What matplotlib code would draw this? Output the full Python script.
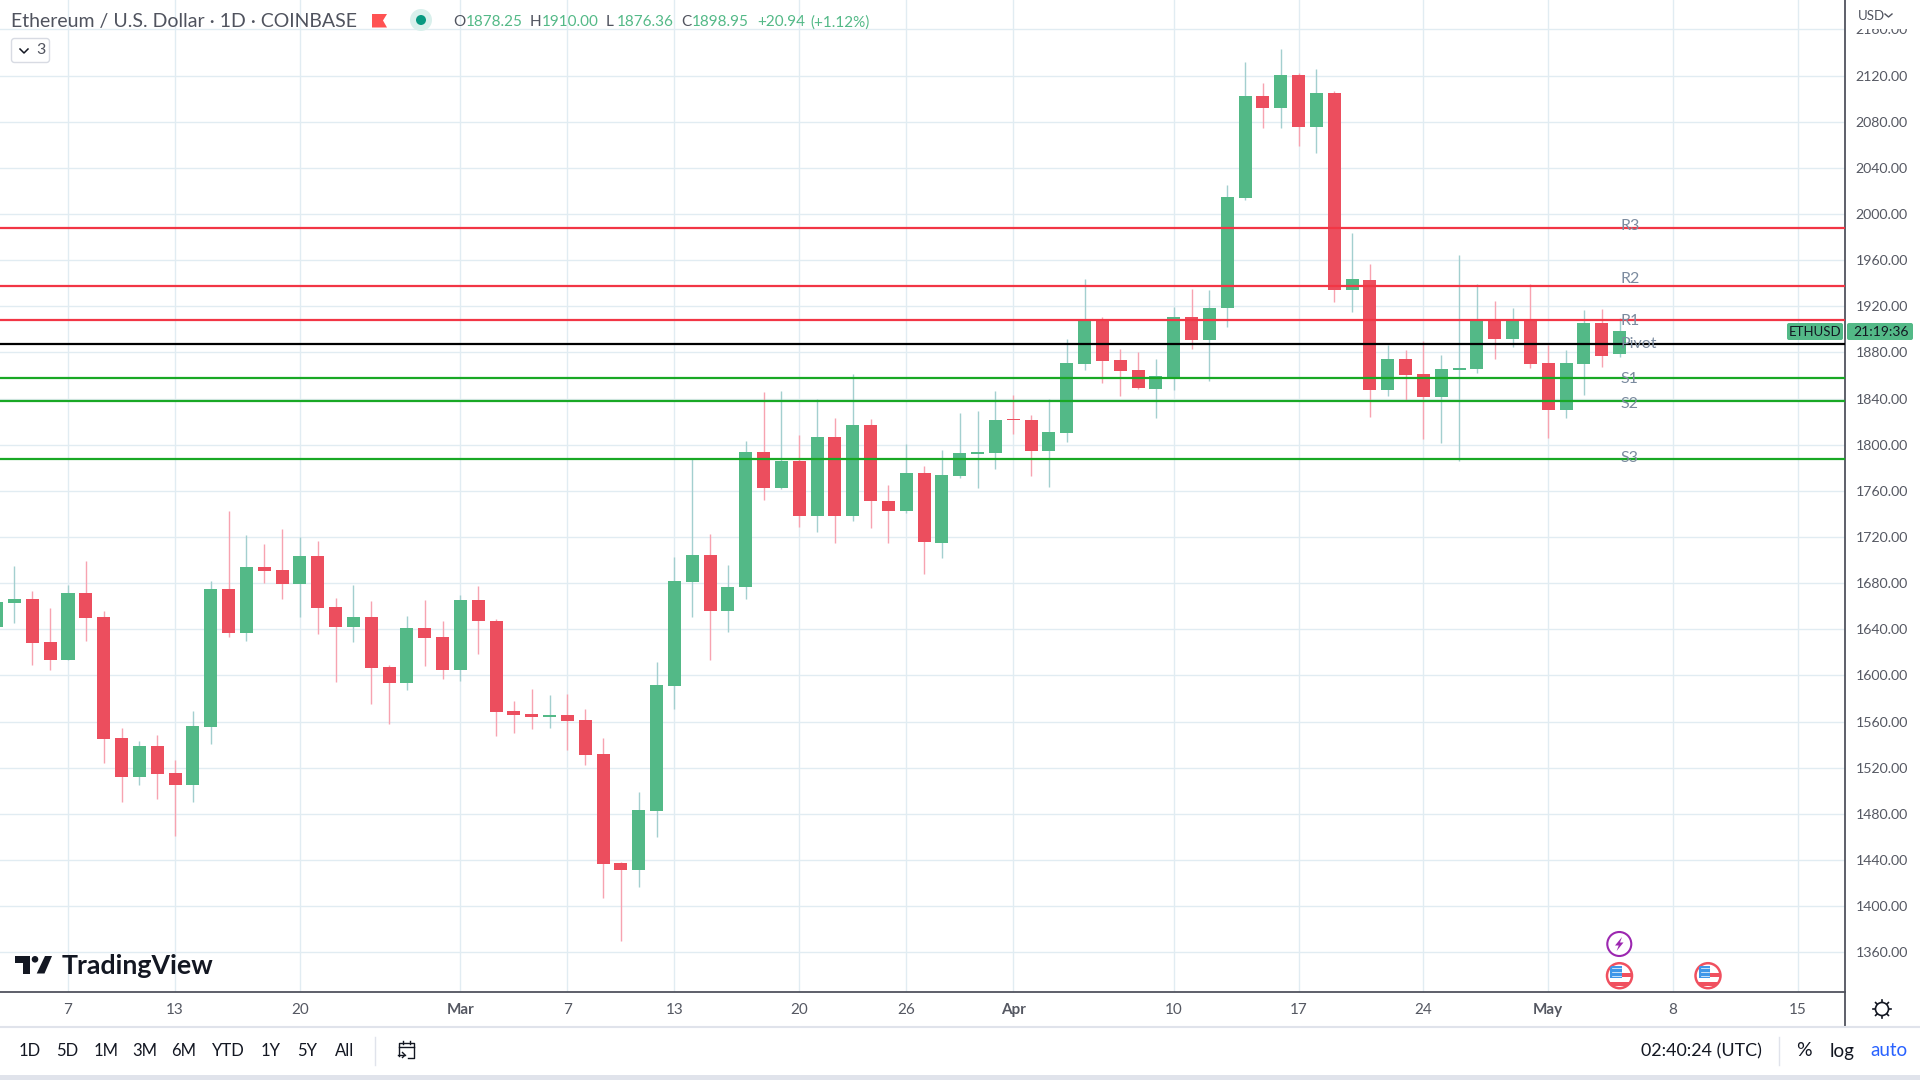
import pandas as pd
import matplotlib
matplotlib.use('Agg')
import matplotlib.pyplot as plt
import matplotlib.dates as mdates
from matplotlib.patches import Circle, Polygon, Rectangle, FancyBboxPatch

plt.rcParams['font.family'] = ['Lato', 'DejaVu Sans']

# daily ETHUSD candles, 3 Feb to 5 May
start_date = '2023-02-03'
opens = [1642, 1662.9, 1666.4, 1629, 1613.3, 1671.6, 1650.7, 1545.5, 1511.6, 1538.6, 1515, 1504.6, 1555.1,
         1675.1, 1636.8, 1694.2, 1691.6, 1679.4, 1703.8, 1659.4, 1642, 1650.7, 1607.2, 1593.3, 1641.2, 1633.3,
         1604.6, 1665.5, 1647.2, 1569.2, 1566.5, 1564.1, 1565.6, 1561.4, 1531.8, 1437.4, 1431.1, 1482.5, 1591,
         1681.3, 1704.6, 1655.9, 1676.8, 1794, 1762.9, 1786.2, 1738.4, 1806.7, 1738.4, 1817.1, 1751.6, 1742.9,
         1775.8, 1715.1, 1772.9, 1792.1, 1793, 1821.6, 1821.6, 1794.7, 1810.3, 1870.1, 1908.3, 1873.6, 1864.9,
         1848.4, 1858.8, 1910.9, 1890.9, 1918.3, 2013.6, 2102.1, 2091.7, 2120.3, 2075.2, 2104.7, 1933.9, 1942.9,
         1847.6, 1874.5, 1861.4, 1841.5, 1864.9, 1865.8, 1907.7, 1891.8, 1907.7, 1871, 1830.2, 1870.1, 1905.7,
         1878.25]
highs = [1668, 1695, 1673.3, 1658.6, 1678.6, 1699.4, 1655.9, 1554.2, 1542.9, 1548.1, 1526.4, 1569, 1682,
         1742.9, 1722, 1714.2, 1727.2, 1720, 1716.8, 1667.2, 1678.6, 1664.6, 1609, 1651.6, 1665.5, 1647.2,
         1669.9, 1677.7, 1649, 1577.9, 1588.3, 1583, 1583.9, 1571, 1545.9, 1438.3, 1499, 1611.7, 1702.8,
         1787.4, 1722.9, 1696, 1803.6, 1845.7, 1846.6, 1808.4, 1839.6, 1823.1, 1861.3, 1822.3, 1765.3, 1800.6,
         1781.8, 1795.4, 1827.5, 1829.4, 1846.7, 1843.2, 1825.9, 1839.8, 1891.8, 1943.8, 1910.9, 1883.1, 1880.5,
         1874.5, 1919.5, 1935, 1934.3, 2024.9, 2131.6, 2113.4, 2142.8, 2122, 2125.5, 2106.4, 1983.3, 1956.8,
         1886.6, 1882.3, 1890.1, 1877.9, 1964.6, 1939.5, 1924.7, 1918.7, 1939.5, 1886.6, 1882.3, 1916.9, 1917.8,
         1910]
lows = [1636, 1645.8, 1609, 1604.6, 1613.3, 1629.9, 1523.8, 1490.7, 1504.6, 1493.3, 1461.2, 1489.9, 1540.3,
        1633.3, 1629.9, 1680.3, 1666.4, 1650.7, 1635.9, 1594.2, 1629, 1575.1, 1557.7, 1587.2, 1608.1, 1596.8,
        1595, 1618.6, 1547.4, 1550.1, 1553.7, 1554.6, 1535.4, 1522.3, 1406.9, 1369.5, 1416.4, 1459.8, 1571,
        1650.8, 1613.5, 1637.7, 1666.4, 1752.5, 1762, 1728.8, 1724.7, 1715.1, 1734.2, 1728, 1715.1, 1741,
        1688.2, 1702, 1771, 1762.6, 1779, 1809.4, 1773, 1763.5, 1802.5, 1864.9, 1853.6, 1842.4, 1848.4,
        1823.3, 1847.6, 1883.1, 1855.4, 1901.8, 2011.9, 2074.3, 2074.3, 2058.7, 2052.7, 1923.5, 1914.8, 1824.2,
        1842.4, 1838.9, 1805.1, 1801.6, 1786, 1862.3, 1874.5, 1884.9, 1866.6, 1805.9, 1823.3, 1843.2, 1867.5,
        1876.36]
closes = [1664, 1666.4, 1628.1, 1613.3, 1671.6, 1649.9, 1544.6, 1511.6, 1538.6, 1514.2, 1504.6, 1556, 1675.1,
          1636.8, 1694.2, 1690.7, 1679.4, 1703.8, 1658.6, 1642, 1650.7, 1606.4, 1593.3, 1641.2, 1632.5, 1604.6,
          1665.5, 1647.2, 1568.3, 1565.6, 1564.1, 1565.6, 1560.5, 1530.9, 1436.5, 1431.1, 1483.4, 1591.9, 1682.2,
          1704.6, 1655.9, 1676.8, 1794, 1762.9, 1786.2, 1738.4, 1806.7, 1738.4, 1817.1, 1751.6, 1742.9, 1775.8,
          1716, 1774, 1792.8, 1793.8, 1821.6, 1821, 1794.7, 1811.2, 1871, 1908.3, 1872.7, 1864, 1849.3,
          1859.7, 1910.9, 1890.9, 1918.7, 2014.5, 2102.1, 2091.7, 2120.3, 2075.2, 2104.7, 1933.9, 1943.4, 1847.6,
          1874.5, 1860.6, 1841.5, 1865.8, 1866.6, 1907.7, 1891.8, 1907.7, 1870.1, 1830.2, 1871, 1905.7, 1877,
          1898.95]

# pivot levels
level_names = ['R3', 'R2', 'R1', 'Pivot', 'S1', 'S2', 'S3']
level_values = [1987.9, 1937.6, 1908.1, 1887.3, 1857.8, 1837.9, 1787.6]
level_colors = ['#f23645', '#f23645', '#f23645', '#000000', '#19a825', '#19a825', '#19a825']
level_label_offsets = [1.5, 5, -1, 0, -1, -2, 1]

# axis ticks
price_ticks = list(range(1360, 2161, 40))
tick_dates = ['2023-02-07', '2023-02-13', '2023-02-20', '2023-03-01', '2023-03-07', '2023-03-13', '2023-03-20',
              '2023-03-26', '2023-04-01', '2023-04-10', '2023-04-17', '2023-04-24', '2023-05-01', '2023-05-08',
              '2023-05-15']
tick_labels = ['7', '13', '20', 'Mar', '7', '13', '20', '26', 'Apr', '10', '17', '24', 'May', '8', '15']
range_buttons = ['1D', '5D', '1M', '3M', '6M', 'YTD', '1Y', '5Y', 'All']
range_button_x = [30, 67, 106, 145, 184, 228, 271, 307, 345]

GREEN = '#53b987'
RED = '#ec4e5e'
GRID = '#e1ecf2'
AXIS = '#50535e'
W, H = 1920, 1080
CHART_R, CHART_B = 1845, 992
PX_PER_DAY = 17.835
PX_PER_USD = 1.1536

fig = plt.figure(figsize=(W / 100, H / 100), dpi=100, facecolor='white')
ax = fig.add_axes([0, 1 - CHART_B / H, CHART_R / W, CHART_B / H])

dates = pd.date_range(start_date, periods=len(opens))
x = mdates.date2num(dates)
feb7 = mdates.date2num(pd.Timestamp('2023-02-07'))
ax.set_xlim(feb7 - 68 / PX_PER_DAY, feb7 + (CHART_R - 68) / PX_PER_DAY)
ax.set_ylim(2000 - (CHART_B - 214) / PX_PER_USD, 2000 + 214 / PX_PER_USD)

# candles
for xi, o, h, l, c in zip(x, opens, highs, lows, closes):
    up = c >= o
    ax.vlines(xi, l, h, color='#a3cfcf' if up else '#f7a3b0', lw=1.0, zorder=2)
    ax.bar(xi, max(abs(c - o), 1.2), bottom=min(o, c), width=0.73, color=GREEN if up else RED, lw=0, zorder=3)

# pivot lines and labels
label_x = feb7 + (1620 - 68) / PX_PER_DAY
for name, val, col, off in zip(level_names, level_values, level_colors, level_label_offsets):
    ax.axhline(val, color=col, lw=1.6, zorder=4)
    ax.annotate(name, (label_x, val), xytext=(0, off), textcoords='offset points', va='center', ha='left',
                color='#7b8b9f', fontsize=11.5, zorder=5)

ax.set_yticks(price_ticks)
ax.set_yticklabels([f'{p:.2f}' for p in price_ticks])
ax.set_xticks(mdates.date2num(pd.to_datetime(tick_dates)))
ax.set_xticklabels(tick_labels)
ax.yaxis.tick_right()
ax.tick_params(axis='both', length=0, labelcolor='#555862')
ax.tick_params(axis='y', pad=7.5, labelsize=10.2)
ax.tick_params(axis='x', pad=8, labelsize=11)
for lab in ax.get_xticklabels():
    if lab.get_text() in ('Mar', 'Apr', 'May'):
        lab.set_fontweight('bold')
ax.grid(True, color=GRID, lw=1.0, zorder=0)
ax.set_axisbelow(True)
for side in ('top', 'left'):
    ax.spines[side].set_visible(False)
ax.spines['right'].set_color(AXIS)
ax.spines['bottom'].set_color(AXIS)
ax.spines['right'].set_linewidth(1.3)
ax.spines['bottom'].set_linewidth(1.3)

# everything around the chart, in pixel coordinates
ov = fig.add_axes([0, 0, 1, 1], zorder=10)
ov.set_xlim(0, W)
ov.set_ylim(H, 0)
ov.axis('off')
ov.patch.set_alpha(0)

ov.add_patch(Rectangle((1846.5, 0), 74, 28.5, color='white', lw=0))
ov.plot([CHART_R, CHART_R], [992, 1026], color=AXIS, lw=1.3)
ov.plot([0, W], [1026.5, 1026.5], color='#e0e3eb', lw=1.5)
ov.add_patch(Rectangle((0, 1075), W, 5, color='#e0e3eb', lw=0))

# header
ov.text(11, 22, 'Ethereum / U.S. Dollar · 1D · COINBASE', fontsize=14, color='#50535e', va='center')
ov.add_patch(Polygon([(372, 14), (387, 14), (383, 20.5), (387, 27.5), (372, 27.5)], color='#ff5252', lw=0))
ov.add_patch(Circle((421, 20), 11, color='#d9f0ec', lw=0))
ov.add_patch(Circle((421, 20), 5, color='#089981', lw=0))
for txt, xp, col in [('O', 453, '#50535e'), ('1878.25', 466, GREEN), ('H', 530, '#50535e'), ('1910.00', 542, GREEN),
                     ('L', 606, '#50535e'), ('1876.36', 617, GREEN), ('C', 681, '#50535e'), ('1898.95', 692, GREEN),
                     ('+20.94', 757, GREEN), ('(+1.12%)', 810, GREEN)]:
    ov.text(xp, 22.5, txt, fontsize=11, color=col, va='center')

# collapsed indicators button
ov.add_patch(FancyBboxPatch((11.5, 38.5), 38, 24, boxstyle='round,pad=0,rounding_size=3', fc='white', ec='#d8dbe3', lw=1))
ov.plot([20, 24, 28], [49, 53, 49], color='#131722', lw=1.1)
ov.text(36, 50.5, '3', fontsize=11.5, color='#50535e', va='center')

# USD button
ov.text(1858, 16, 'USD', fontsize=9.5, color='#50535e', va='center')
ov.plot([1885, 1888.5, 1892], [14, 17, 14], color='#50535e', lw=1)

# price badges
ov.add_patch(FancyBboxPatch((1787, 323), 56, 17, boxstyle='round,pad=0,rounding_size=2', color=GREEN, lw=0))
ov.add_patch(FancyBboxPatch((1847, 323), 66, 17, boxstyle='round,pad=0,rounding_size=2', color=GREEN, lw=0))
ov.text(1815, 332, 'ETHUSD', fontsize=9.5, color='#131722', ha='center', va='center')
ov.text(1881, 332, '21:19:36', fontsize=10, color='#131722', ha='center', va='center')

# logo
ov.add_patch(Polygon([(15, 956), (29.5, 956), (29.5, 973.5), (22.5, 973.5), (22.5, 962.5), (15, 962.5)],
                     color='#131722', lw=0))
ov.add_patch(Circle((35, 959.3), 3.3, color='#131722', lw=0))
ov.add_patch(Polygon([(45, 956), (52, 956), (44.5, 973.5), (36.7, 973.5)], color='#131722', lw=0))
ov.text(62, 965.5, 'TradingView', fontsize=19.3, fontweight='bold', color='#131722', va='center')

# event icons
ov.add_patch(Circle((1619.3, 944), 12, fc='white', ec='#9c27b0', lw=1.5))
ov.add_patch(Polygon([(1622, 937), (1615, 945.5), (1618.7, 945.5), (1616.6, 951), (1623.5, 942.5), (1620, 942.5)],
                     color='#9c27b0', lw=0))


def us_flag(cx, cy):
    ring = Circle((cx, cy), 12.5, fc='white', ec='#f0505f', lw=1.8)
    ov.add_patch(ring)
    parts = [Rectangle((cx - 9.5, cy - 10), 11.8, 11.8, color='#3f97e8', lw=0),
             Rectangle((cx + 2.3, cy - 2.3), 11, 4, color='#f0505f', lw=0),
             Rectangle((cx - 12, cy + 6), 24, 4, color='#f0505f', lw=0)]
    for p in parts:
        ov.add_patch(p)
        p.set_clip_path(ring)
    for k in (-5.8, -2, 1.8 - 3.8 + 3.8):
        dots = ov.plot([cx - 7.5, cx + 1], [cy + k - 2, cy + k - 2], color='white', lw=0.5)[0]
        dots.set_clip_path(ring)


us_flag(1619.5, 975.7)
us_flag(1708, 975.7)

# settings gear
ov.add_patch(Circle((1882, 1009), 6.5, fc='white', ec='#131722', lw=1.2))
for dx, dy in [(0, -9), (0, 9), (-9, 0), (9, 0), (-6.4, -6.4), (6.4, -6.4), (-6.4, 6.4), (6.4, 6.4)]:
    ov.plot([1882 + dx * 0.75, 1882 + dx], [1009 + dy * 0.75, 1009 + dy], color='#131722', lw=1.2)

# bottom toolbar
for txt, xp in zip(range_buttons, range_button_x):
    ov.text(xp, 1051, txt, fontsize=12, color='#131722', ha='center', va='center')
ov.plot([375, 375], [1037, 1065], color='#e0e3eb', lw=1)
ov.plot([1779, 1779], [1037, 1065], color='#e0e3eb', lw=1)
ov.plot([399, 399, 414, 414, 408], [1056, 1043, 1043, 1058, 1058], color='#131722', lw=1)
ov.plot([399, 414], [1047, 1047], color='#131722', lw=1)
ov.plot([403, 403], [1041, 1044], color='#131722', lw=1)
ov.plot([410, 410], [1041, 1044], color='#131722', lw=1)
ov.plot([398, 405], [1055, 1055], color='#131722', lw=1)
ov.plot([402.5, 405, 402.5], [1052.5, 1055, 1057.5], color='#131722', lw=1)
ov.text(1701, 1051, '02:40:24 (UTC)', fontsize=12.9, color='#131722', ha='center', va='center')
ov.text(1804, 1051, '%', fontsize=14, color='#131722', ha='center', va='center')
ov.text(1842, 1051, 'log', fontsize=13.5, color='#131722', ha='center', va='center')
ov.text(1889, 1051, 'auto', fontsize=13.5, color='#2962ff', ha='center', va='center')

fig.savefig('out.png', dpi=100)
